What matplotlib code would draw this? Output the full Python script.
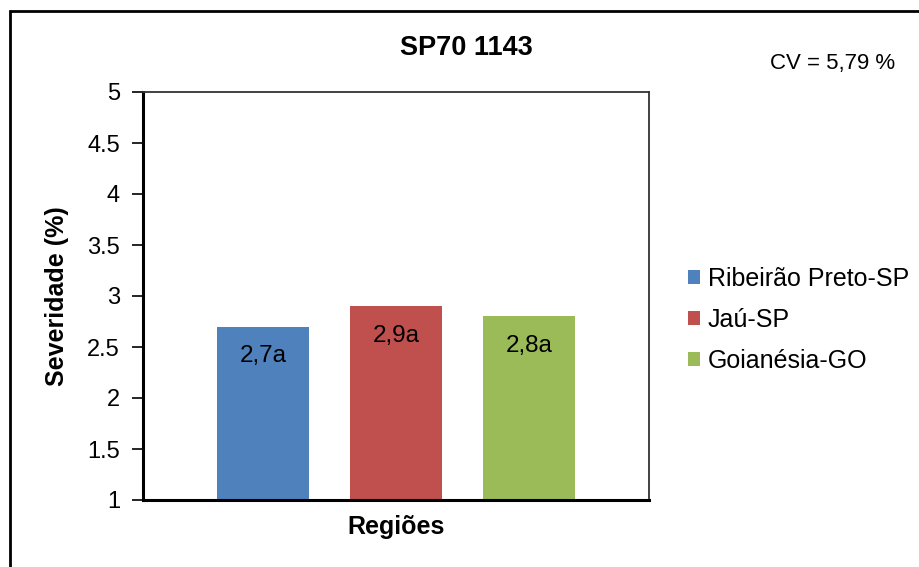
import matplotlib
matplotlib.use("Agg")
import matplotlib.pyplot as plt
from matplotlib.patches import Rectangle

plt.rcParams['font.family'] = ['Liberation Sans', 'DejaVu Sans']

regions = ["Ribeirão Preto-SP", "Jaú-SP", "Goianésia-GO"]
severity = [2.7, 2.9, 2.8]
bar_labels = ["2,7a", "2,9a", "2,8a"]
colors = ["#4F81BD", "#C0504D", "#9BBB59"]
yticks = [1, 1.5, 2, 2.5, 3, 3.5, 4, 4.5, 5]

fig = plt.figure(figsize=(9.2, 5.67), dpi=100)
W, H = 920, 567
ax = fig.add_axes([143 / W, 1 - 500 / H, (649 - 143) / W, (500 - 92) / H])

x = list(range(len(regions)))
for i in x:
    ax.bar(i, severity[i] - 1, bottom=1, width=0.69, color=colors[i], label=regions[i])
    ax.text(i, severity[i] - 0.29, bar_labels[i], ha="center", va="center", fontsize=17.5)

ax.set_xlim(-0.902, 2.902)
ax.set_ylim(1, 5)
ax.set_yticks(yticks)
ax.set_yticklabels([("%g" % t) for t in yticks], fontsize=17)
ax.set_xticks([])
ax.tick_params(axis="y", length=8, width=1.2, pad=8.5, direction="out")
for side in ["left", "bottom"]:
    ax.spines[side].set_linewidth(2.2)
for side in ["top", "right"]:
    ax.spines[side].set_linewidth(1.3)
    ax.spines[side].set_color("#333333")

ax.set_ylabel("Severidade (%)", fontsize=18, fontweight="bold", va="center")
ax.yaxis.set_label_coords((57 - 143) / 506, 0.5)
ax.set_xlabel("Regiões", fontsize=18, fontweight="bold", va="center")
ax.xaxis.set_label_coords(0.5, -27 / 408)

fig.text(466 / W, 1 - 48 / H, "SP70 1143", ha="center", va="center", fontsize=19.5, fontweight="bold")
fig.text(770 / W, 1 - 63 / H, "CV = 5,79 %", ha="left", va="center", fontsize=16)

fig.legend(loc="upper left", bbox_to_anchor=(688 / W, 1 - 267 / H), frameon=False,
           fontsize=18, handlelength=0.5, handleheight=0.5, handletextpad=0.3,
           labelspacing=0.68, borderpad=0, borderaxespad=0)

# outer chart border, running off the right and bottom edges
fig.add_artist(Rectangle((10 / W, -0.1), 1.2, 1 - 11 / H + 0.1, transform=fig.transFigure,
                         fill=False, edgecolor="black", linewidth=2, clip_on=False))

fig.savefig("out.png", dpi=100)
